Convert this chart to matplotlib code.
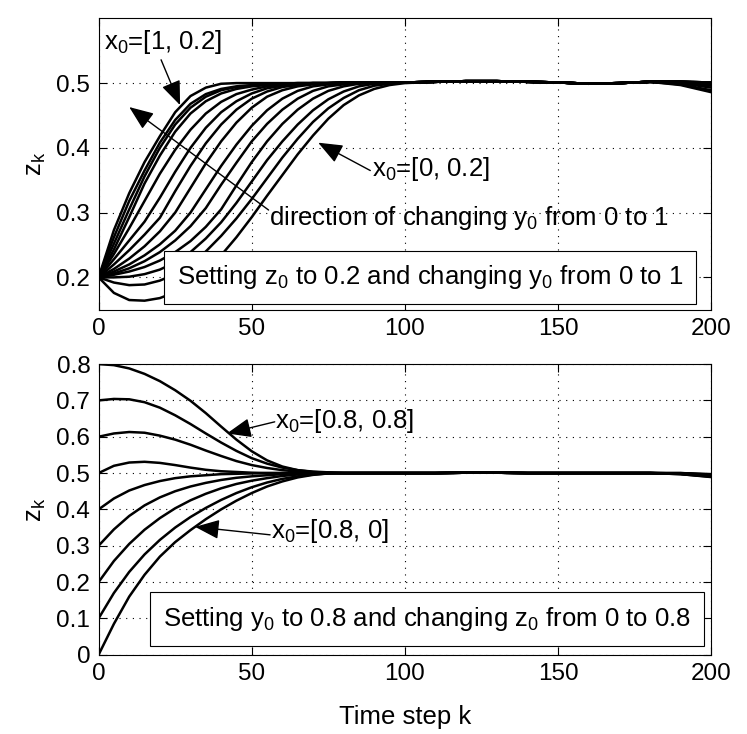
import matplotlib
matplotlib.use("Agg")
import matplotlib.pyplot as plt

plt.rcParams["font.family"] = ["Liberation Sans", "DejaVu Sans"]
plt.rcParams["mathtext.fontset"] = "custom"
plt.rcParams["mathtext.rm"] = "Liberation Sans"
plt.rcParams["mathtext.it"] = "Liberation Sans:italic"

# ---- data ----
RISE_K = [0, 5, 10, 15, 20, 25, 30, 35, 40, 45, 50, 55, 60, 65, 70, 75, 80, 85, 90, 95, 100]
TAIL_K = [110, 120, 130, 140, 150, 160, 170, 180]
END_K = [190, 200]

# top panel: z0 = 0.2, y0 from 1 (left) to 0 (right)
TOP_RISE = [
    [0.2, 0.273, 0.33, 0.378, 0.418, 0.455, 0.48, 0.493, 0.499, 0.5, 0.5, 0.5, 0.5, 0.5, 0.5, 0.5, 0.501, 0.501, 0.501, 0.501, 0.501],
    [0.2, 0.262, 0.318, 0.365, 0.408, 0.443, 0.468, 0.483, 0.491, 0.495, 0.497, 0.498, 0.499, 0.5, 0.5, 0.5, 0.501, 0.501, 0.501, 0.501, 0.501],
    [0.2, 0.252, 0.305, 0.356, 0.4, 0.436, 0.462, 0.479, 0.489, 0.494, 0.496, 0.498, 0.499, 0.5, 0.5, 0.5, 0.501, 0.501, 0.501, 0.501, 0.501],
    [0.2, 0.243, 0.293, 0.345, 0.388, 0.425, 0.453, 0.472, 0.484, 0.491, 0.495, 0.497, 0.498, 0.499, 0.5, 0.5, 0.501, 0.501, 0.501, 0.501, 0.501],
    [0.2, 0.236, 0.276, 0.318, 0.36, 0.397, 0.428, 0.453, 0.471, 0.483, 0.49, 0.495, 0.498, 0.499, 0.5, 0.5, 0.5, 0.501, 0.501, 0.501, 0.501],
    [0.2, 0.228, 0.257, 0.286, 0.323, 0.363, 0.4, 0.431, 0.455, 0.472, 0.484, 0.492, 0.496, 0.498, 0.5, 0.5, 0.5, 0.501, 0.501, 0.501, 0.501],
    [0.2, 0.22, 0.242, 0.266, 0.292, 0.333, 0.372, 0.407, 0.436, 0.459, 0.476, 0.487, 0.494, 0.497, 0.499, 0.5, 0.5, 0.501, 0.501, 0.501, 0.501],
    [0.2, 0.213, 0.229, 0.248, 0.271, 0.3, 0.338, 0.376, 0.41, 0.439, 0.462, 0.479, 0.489, 0.495, 0.498, 0.5, 0.5, 0.5, 0.501, 0.501, 0.501],
    [0.2, 0.209, 0.22, 0.234, 0.251, 0.272, 0.3, 0.336, 0.372, 0.405, 0.434, 0.458, 0.476, 0.488, 0.495, 0.498, 0.5, 0.5, 0.501, 0.501, 0.501],
    [0.2, 0.206, 0.214, 0.225, 0.239, 0.257, 0.279, 0.307, 0.343, 0.377, 0.41, 0.437, 0.459, 0.476, 0.488, 0.495, 0.498, 0.5, 0.5, 0.501, 0.501],
    [0.2, 0.204, 0.209, 0.216, 0.226, 0.239, 0.256, 0.278, 0.305, 0.342, 0.378, 0.41, 0.437, 0.459, 0.476, 0.488, 0.495, 0.499, 0.5, 0.501, 0.501],
    [0.2, 0.2, 0.201, 0.205, 0.212, 0.223, 0.239, 0.26, 0.285, 0.315, 0.348, 0.381, 0.41, 0.436, 0.458, 0.475, 0.487, 0.495, 0.499, 0.5, 0.501],
    [0.2, 0.192, 0.188, 0.189, 0.195, 0.205, 0.22, 0.24, 0.264, 0.291, 0.321, 0.353, 0.385, 0.414, 0.44, 0.461, 0.477, 0.489, 0.496, 0.499, 0.501],
    [0.2, 0.176, 0.165, 0.164, 0.168, 0.177, 0.191, 0.21, 0.234, 0.262, 0.293, 0.326, 0.358, 0.39, 0.419, 0.445, 0.466, 0.481, 0.491, 0.497, 0.5],
]
TOP_TAIL = [0.502, 0.503, 0.503, 0.502, 0.501, 0.499, 0.5, 0.502]
TOP_END = [
    (0.497, 0.486), (0.498, 0.489), (0.5, 0.493), (0.501, 0.496), (0.501, 0.497),
    (0.501, 0.498), (0.502, 0.499), (0.502, 0.5), (0.502, 0.5), (0.502, 0.501),
    (0.502, 0.501), (0.502, 0.501), (0.502, 0.501), (0.502, 0.501),
]

# bottom panel: y0 = 0.8, z0 from 0 to 0.8
BOT_RISE = [
    [0.0, 0.085, 0.16, 0.22, 0.27, 0.31, 0.343, 0.373, 0.4, 0.424, 0.445, 0.463, 0.477, 0.488, 0.495, 0.499, 0.5, 0.5, 0.5, 0.5, 0.5],
    [0.1, 0.17, 0.228, 0.276, 0.316, 0.35, 0.379, 0.404, 0.426, 0.445, 0.461, 0.474, 0.484, 0.491, 0.496, 0.499, 0.5, 0.5, 0.5, 0.5, 0.5],
    [0.2, 0.258, 0.305, 0.344, 0.376, 0.403, 0.425, 0.443, 0.458, 0.47, 0.479, 0.486, 0.492, 0.496, 0.498, 0.5, 0.5, 0.5, 0.5, 0.5, 0.5],
    [0.3, 0.345, 0.382, 0.411, 0.433, 0.45, 0.463, 0.473, 0.481, 0.487, 0.491, 0.494, 0.497, 0.499, 0.5, 0.5, 0.5, 0.5, 0.5, 0.5, 0.5],
    [0.4, 0.43, 0.452, 0.467, 0.478, 0.486, 0.491, 0.494, 0.497, 0.498, 0.499, 0.5, 0.5, 0.5, 0.5, 0.5, 0.5, 0.5, 0.5, 0.5, 0.5],
    [0.5, 0.52, 0.529, 0.531, 0.528, 0.522, 0.515, 0.509, 0.505, 0.503, 0.501, 0.5, 0.5, 0.5, 0.5, 0.5, 0.5, 0.5, 0.5, 0.5, 0.5],
    [0.6, 0.609, 0.613, 0.611, 0.603, 0.592, 0.578, 0.562, 0.547, 0.533, 0.522, 0.514, 0.508, 0.504, 0.502, 0.501, 0.5, 0.5, 0.5, 0.5, 0.5],
    [0.7, 0.704, 0.703, 0.695, 0.68, 0.659, 0.635, 0.609, 0.584, 0.561, 0.541, 0.526, 0.515, 0.508, 0.504, 0.502, 0.5, 0.5, 0.5, 0.5, 0.5],
    [0.8, 0.797, 0.788, 0.773, 0.753, 0.728, 0.699, 0.665, 0.628, 0.592, 0.56, 0.535, 0.518, 0.508, 0.503, 0.501, 0.5, 0.5, 0.5, 0.5, 0.5],
]
BOT_TAIL = [0.5, 0.501, 0.501, 0.5, 0.5, 0.5, 0.5, 0.5]
BOT_END = [
    (0.497, 0.489), (0.497, 0.49), (0.498, 0.491), (0.498, 0.492), (0.499, 0.493),
    (0.499, 0.494), (0.499, 0.495), (0.5, 0.496), (0.5, 0.497),
]

X_TICKS = [0, 50, 100, 150, 200]
TOP_YTICKS = [0.2, 0.3, 0.4, 0.5]
BOT_YTICKS = [0, 0.1, 0.2, 0.3, 0.4, 0.5, 0.6, 0.7, 0.8]

FS = 18.5
TICK_FS = 17.5
ARROW = dict(arrowstyle="-|>,head_length=0.75,head_width=0.3", color="k",
             lw=1.0, mutation_scale=20, shrinkA=0, shrinkB=0)


def style_axes(ax, yticks, ylim):
    ax.set_xlim(0, 200)
    ax.set_ylim(*ylim)
    ax.set_xticks(X_TICKS)
    ax.set_yticks(yticks)
    ax.set_yticklabels([f"{t:g}" for t in yticks])
    ax.tick_params(direction="in", top=True, right=True, length=6,
                   width=0.8, labelsize=TICK_FS, pad=6)
    ax.grid(True, color="k", linestyle=(0, (1, 5)), linewidth=0.8)
    for s in ax.spines.values():
        s.set_linewidth(0.8)
    ax.set_ylabel(r"z$_\mathrm{k}$", fontsize=FS, labelpad=6)


def draw_curves(ax, rises, tail, ends):
    k = RISE_K + TAIL_K + END_K
    for rise, end in zip(rises, ends):
        z = rise + tail + list(end)
        ax.plot(k, z, color="k", lw=1.8, solid_capstyle="round", zorder=2)


fig = plt.figure(figsize=(7.47, 7.34), dpi=100)
ax1 = fig.add_axes([0.132, 0.578, 0.820, 0.397])
ax2 = fig.add_axes([0.132, 0.108, 0.820, 0.396])

# ---- top panel ----
draw_curves(ax1, TOP_RISE, TOP_TAIL, TOP_END)
style_axes(ax1, TOP_YTICKS, (0.15, 0.6))

ax1.text(1.6, 0.552, r"x$_0$=[1, 0.2]", fontsize=FS, ha="left", va="baseline")
ax1.annotate("", xy=(26.6, 0.466), xytext=(20.4, 0.536), arrowprops=ARROW)
ax1.annotate("", xy=(10.0, 0.463), xytext=(55.5, 0.304), arrowprops=ARROW)
ax1.text(55.7, 0.281, r"direction of changing y$_0$ from 0 to 1",
         fontsize=FS, ha="left", va="baseline")
ax1.text(89.3, 0.357, r"x$_0$=[0, 0.2]", fontsize=FS, ha="left", va="baseline")
ax1.annotate("", xy=(71.7, 0.408), xytext=(88.7, 0.365), arrowprops=ARROW)
ax1.text(108.3, 0.2, r"Setting z$_0$ to 0.2 and changing y$_0$ from 0 to 1",
         fontsize=FS, ha="center", va="center", zorder=5,
         bbox=dict(boxstyle="square,pad=0.5", fc="white", ec="k", lw=0.8))

# ---- bottom panel ----
draw_curves(ax2, BOT_RISE, BOT_TAIL, BOT_END)
style_axes(ax2, BOT_YTICKS, (0, 0.8))
ax2.set_xlabel("Time step k", fontsize=FS, labelpad=14)

ax2.text(57.7, 0.623, r"x$_0$=[0.8, 0.8]", fontsize=FS, ha="left", va="baseline")
ax2.annotate("", xy=(41.9, 0.609), xytext=(57.5, 0.641), arrowprops=ARROW)
ax2.text(56.4, 0.32, r"x$_0$=[0.8, 0]", fontsize=FS, ha="left", va="baseline")
ax2.annotate("", xy=(31.5, 0.352), xytext=(56.0, 0.33), arrowprops=ARROW)
ax2.text(107.2, 0.0975, r"Setting y$_0$ to 0.8 and changing z$_0$ from 0 to 0.8",
         fontsize=FS, ha="center", va="center", zorder=5,
         bbox=dict(boxstyle="square,pad=0.5", fc="white", ec="k", lw=0.8))

fig.savefig("out.png", dpi=100)
